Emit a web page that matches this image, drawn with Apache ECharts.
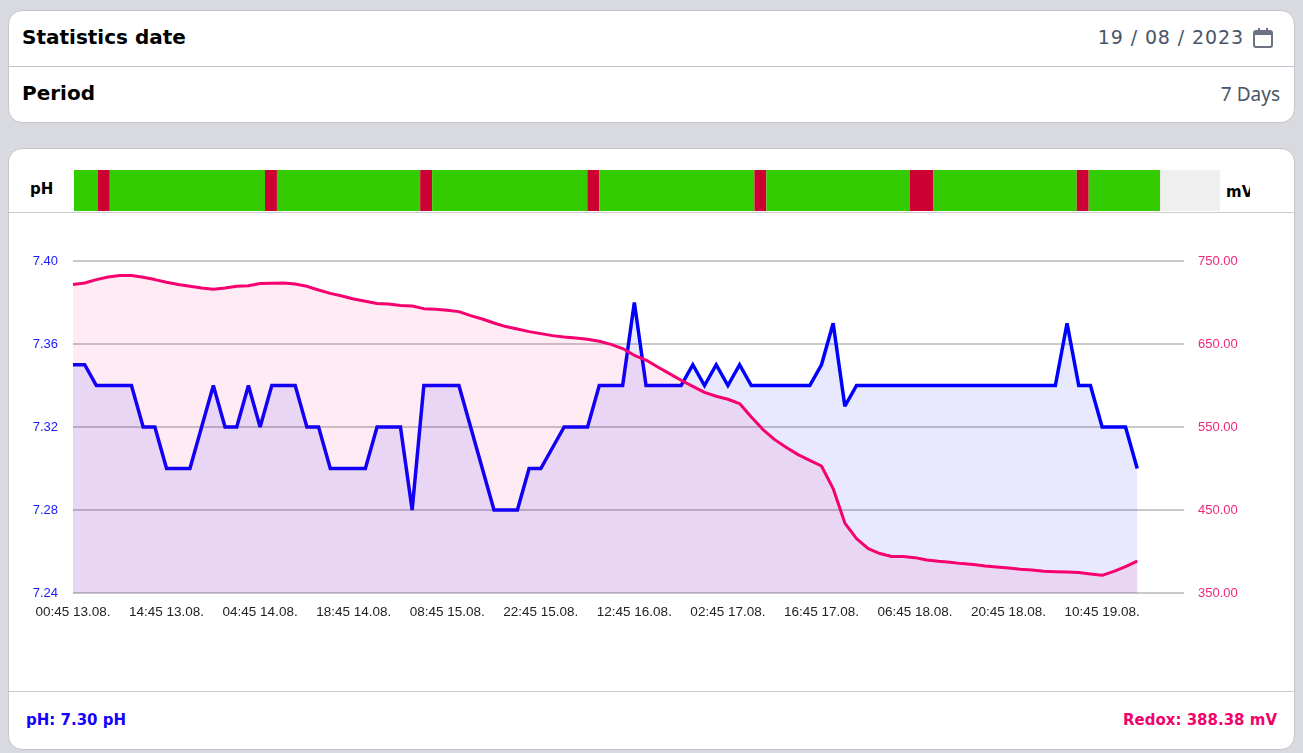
<!DOCTYPE html>
<html>
<head>
    <meta charset="utf-8">
    <title>pH / Redox - 7 Days</title>
    <script src="https://cdn.jsdelivr.net/npm/echarts@6/dist/echarts.min.js"></script>
    <style>
        html, body { margin: 0; padding: 0; }
        body { width: 1303px; height: 753px; background: #d9dadf; position: relative; overflow: hidden;
               font-family: 'DejaVu Sans', sans-serif; }
        .card { position: absolute; left: 8px; width: 1287px; background: #fff; border: 1px solid #c4c5cc;
                border-radius: 14px; box-sizing: border-box; }
        #card1 { top: 10px; height: 113px; }
        #card2 { top: 148px; height: 602px; }
        .lbl { position: absolute; left: 13px; font-weight: bold; font-size: 20px; color: #000; }
        .line { position: absolute; left: 0; right: 0; height: 1px; }
        #date { position: absolute; right: 50px; top: 15px; font-size: 19px; color: #4a5568; letter-spacing: 0.9px; }
        #cal { position: absolute; right: 20px; top: 16px; }
        #days { position: absolute; right: 14px; top: 70px; font-family: 'Noto Sans', sans-serif; font-size: 19px; color: #4a5568; }
        #phTag { position: absolute; left: 21px; top: 31px; font-weight: bold; font-size: 15px; }
        #mvTag { position: absolute; left: 1217px; top: 34px; font-weight: bold; font-size: 15px; width: 24px;
                 overflow: hidden; white-space: nowrap; }
        #phNow { position: absolute; left: 17px; top: 562px; font-weight: bold; font-size: 15px; color: #1400ff; }
        #rxNow { position: absolute; right: 17px; top: 562px; font-weight: bold; font-size: 15px; color: #f0046c; }
        #chart { position: absolute; left: 0; top: 0; width: 1303px; height: 753px; z-index: 5; }
    </style>
</head>
<body>

    <div class="card" id="card1">
        <div class="lbl" style="top:14px;">Statistics date</div>
        <div id="date">19 / 08 / 2023</div>
        <svg id="cal" width="22" height="22" viewBox="0 0 22 22">
            <rect x="2" y="4" width="18" height="16" rx="2" fill="none" stroke="#6b7280" stroke-width="2"/>
            <rect x="2" y="4" width="18" height="4" fill="#6b7280"/>
            <line x1="7" y1="1" x2="7" y2="5" stroke="#6b7280" stroke-width="2"/>
            <line x1="15" y1="1" x2="15" y2="5" stroke="#6b7280" stroke-width="2"/>
        </svg>
        <div class="line" style="top:55px; background:#c0c1c8;"></div>
        <div class="lbl" style="top:70px;">Period</div>
        <div id="days">7 Days</div>
    </div>

    <div class="card" id="card2">
        <div id="phTag">pH</div>
        <div id="mvTag">mV</div>
        <div class="line" style="top:63px; background:#cccccc;"></div>
        <div class="line" style="top:542px; background:#cccccc;"></div>
        <div id="phNow">pH: 7.30 pH</div>
        <div id="rxNow">Redox: 388.38 mV</div>
    </div>

    <div id="chart"></div>

    <script type="text/javascript">

        // pH Messwerte (alle 105 min, ab 00:45 13.08.)
        var phValues = [
            7.35, 7.35, 7.34, 7.34, 7.34, 7.34, 7.32, 7.32, 7.30, 7.30,
            7.30, 7.32, 7.34, 7.32, 7.32, 7.34, 7.32, 7.34, 7.34, 7.34,
            7.32, 7.32, 7.30, 7.30, 7.30, 7.30, 7.32, 7.32, 7.32, 7.28,
            7.34, 7.34, 7.34, 7.34, 7.32, 7.30, 7.28, 7.28, 7.28, 7.30,
            7.30, 7.31, 7.32, 7.32, 7.32, 7.34, 7.34, 7.34, 7.38, 7.34,
            7.34, 7.34, 7.34, 7.35, 7.34, 7.35, 7.34, 7.35, 7.34, 7.34,
            7.34, 7.34, 7.34, 7.34, 7.35, 7.37, 7.33, 7.34, 7.34, 7.34,
            7.34, 7.34, 7.34, 7.34, 7.34, 7.34, 7.34, 7.34, 7.34, 7.34,
            7.34, 7.34, 7.34, 7.34, 7.34, 7.37, 7.34, 7.34, 7.32, 7.32,
            7.32, 7.30
        ];

        // Redox Messwerte in mV
        var redoxValues = [
            721.6, 723.5, 727.6, 730.7, 732.4, 732.4, 730.4, 727.6, 724.3, 721.6,
            719.5, 717.5, 715.9, 717.5, 719.5, 720.3, 722.8, 723.1, 723.5, 722.3,
            719.5, 715.0, 711.0, 707.8, 704.2, 701.4, 698.7, 698.2, 696.3, 695.8,
            692.6, 691.8, 690.6, 689.0, 684.2, 680.1, 675.3, 671.0, 668.1, 664.9,
            662.5, 660.1, 658.4, 657.2, 655.7, 653.3, 649.6, 644.5, 636.4, 630.7,
            622.3, 614.3, 606.3, 599.0, 591.8, 587.0, 583.4, 578.2, 562.1, 546.9,
            534.8, 525.2, 516.7, 509.9, 503.0, 475.8, 434.3, 415.5, 403.5, 397.5,
            393.9, 393.9, 392.6, 389.8, 388.2, 387.0, 385.4, 384.2, 382.6, 381.4,
            380.1, 378.6, 377.7, 376.1, 375.7, 375.3, 374.6, 372.9, 371.3, 376.1,
            381.8, 388.38
        ];

        // Status-Balken: 1 = ok, 2 = Alarm, 0 = keine Daten
        var phStatus = [
            1, 1, 2, 1, 1, 1, 1, 1, 1, 1,
            1, 1, 1, 1, 1, 1, 2, 1, 1, 1,
            1, 1, 1, 1, 1, 1, 1, 1, 1, 2,
            1, 1, 1, 1, 1, 1, 1, 1, 1, 1,
            1, 1, 1, 2, 1, 1, 1, 1, 1, 1,
            1, 1, 1, 1, 1, 1, 1, 2, 1, 1,
            1, 1, 1, 1, 1, 1, 1, 1, 1, 1,
            2, 2, 1, 1, 1, 1, 1, 1, 1, 1,
            1, 1, 1, 1, 2, 1, 1, 1, 1, 1,
            1, 0, 0, 0, 0, 0
        ];
        var statusColors = ['#efefef', '#33cc00', '#cc0033'];

        // Zeitachse: 96 Slots a 105 min
        var startMinute = 45;
        var startDay = 13;
        var stepMinutes = 105;
        var slotCount = 96;

        function pad(n) { return (n < 10 ? '0' : '') + n; }

        var timeLabels = [];
        for (var i = 0; i < slotCount; i++) {
            var t = startMinute + i * stepMinutes;
            var day = startDay + Math.floor(t / 1440);
            var m = t % 1440;
            timeLabels.push(pad(Math.floor(m / 60)) + ':' + pad(m % 60) + ' ' + day + '.08.');
        }

        // gleiche Status hintereinander zu Bloecken zusammenfassen: [von, bis, status]
        var statusRuns = [];
        phStatus.forEach(function (s, idx) {
            var last = statusRuns[statusRuns.length - 1];
            if (last && last[2] === s) {
                last[1] = idx;
            } else {
                statusRuns.push([idx, idx, s]);
            }
        });

        function renderStatus(params, api) {
            var from = api.value(0);
            var to = api.value(1);
            var band = api.size([1, 0])[0];
            var p0 = api.coord([from, 1]);
            var p1 = api.coord([to, 0]);
            return {
                type: 'rect',
                shape: {
                    x: p0[0] - band / 2,
                    y: p0[1],
                    width: p1[0] - p0[0] + band,
                    height: p1[1] - p0[1]
                },
                style: { fill: statusColors[api.value(2)] }
            };
        }

        var myChart = echarts.init(document.getElementById('chart'));

        myChart.setOption({
            animation: false,
            textStyle: { fontFamily: 'Liberation Sans, Arial, sans-serif' },
            grid: [
                { left: 73, top: 261, width: 1111, height: 332 },
                { left: 74, top: 170, width: 1146, height: 41 }
            ],
            xAxis: [
                {
                    type: 'category',
                    gridIndex: 0,
                    data: timeLabels,
                    boundaryGap: false,
                    axisLine: { show: false },
                    axisTick: { show: false },
                    splitLine: { show: false },
                    axisLabel: { interval: 7, color: '#222', fontSize: 13.5, margin: 12 }
                },
                {
                    type: 'category',
                    gridIndex: 1,
                    data: timeLabels,
                    boundaryGap: true,
                    show: false
                }
            ],
            yAxis: [
                {
                    type: 'value',
                    gridIndex: 0,
                    position: 'left',
                    min: 7.24,
                    max: 7.40,
                    interval: 0.04,
                    axisLine: { show: false },
                    axisTick: { show: false },
                    axisLabel: {
                        color: '#1a1aff', fontSize: 13, margin: 15,
                        formatter: function (v) { return v.toFixed(2); }
                    },
                    splitLine: { lineStyle: { color: '#c9c9c9', width: 2 } }
                },
                {
                    type: 'value',
                    gridIndex: 0,
                    position: 'right',
                    min: 350,
                    max: 750,
                    interval: 100,
                    axisLine: { show: false },
                    axisTick: { show: false },
                    axisLabel: {
                        color: '#f0267a', fontSize: 13, margin: 14,
                        formatter: function (v) { return v.toFixed(2); }
                    },
                    splitLine: { show: false }
                },
                {
                    type: 'value',
                    gridIndex: 1,
                    min: 0,
                    max: 1,
                    show: false
                }
            ],
            series: [
                {
                    name: 'pH',
                    type: 'line',
                    xAxisIndex: 0,
                    yAxisIndex: 0,
                    data: phValues,
                    showSymbol: false,
                    z: 2,
                    lineStyle: { color: '#0000ff', width: 3.5, join: 'miter', miterLimit: 2.5 },
                    areaStyle: { color: 'rgba(0,0,255,0.09)', opacity: 1, origin: 'start' }
                },
                {
                    name: 'Redox',
                    type: 'line',
                    xAxisIndex: 0,
                    yAxisIndex: 1,
                    data: redoxValues,
                    showSymbol: false,
                    z: 3,
                    lineStyle: { color: '#f5006e', width: 3, join: 'round' },
                    areaStyle: { color: 'rgba(245,0,110,0.08)', opacity: 1, origin: 'start' }
                },
                {
                    name: 'Status',
                    type: 'custom',
                    xAxisIndex: 1,
                    yAxisIndex: 2,
                    data: statusRuns,
                    renderItem: renderStatus,
                    encode: { x: [0, 1] },
                    silent: true
                }
            ]
        });

    </script>

</body>
</html>
